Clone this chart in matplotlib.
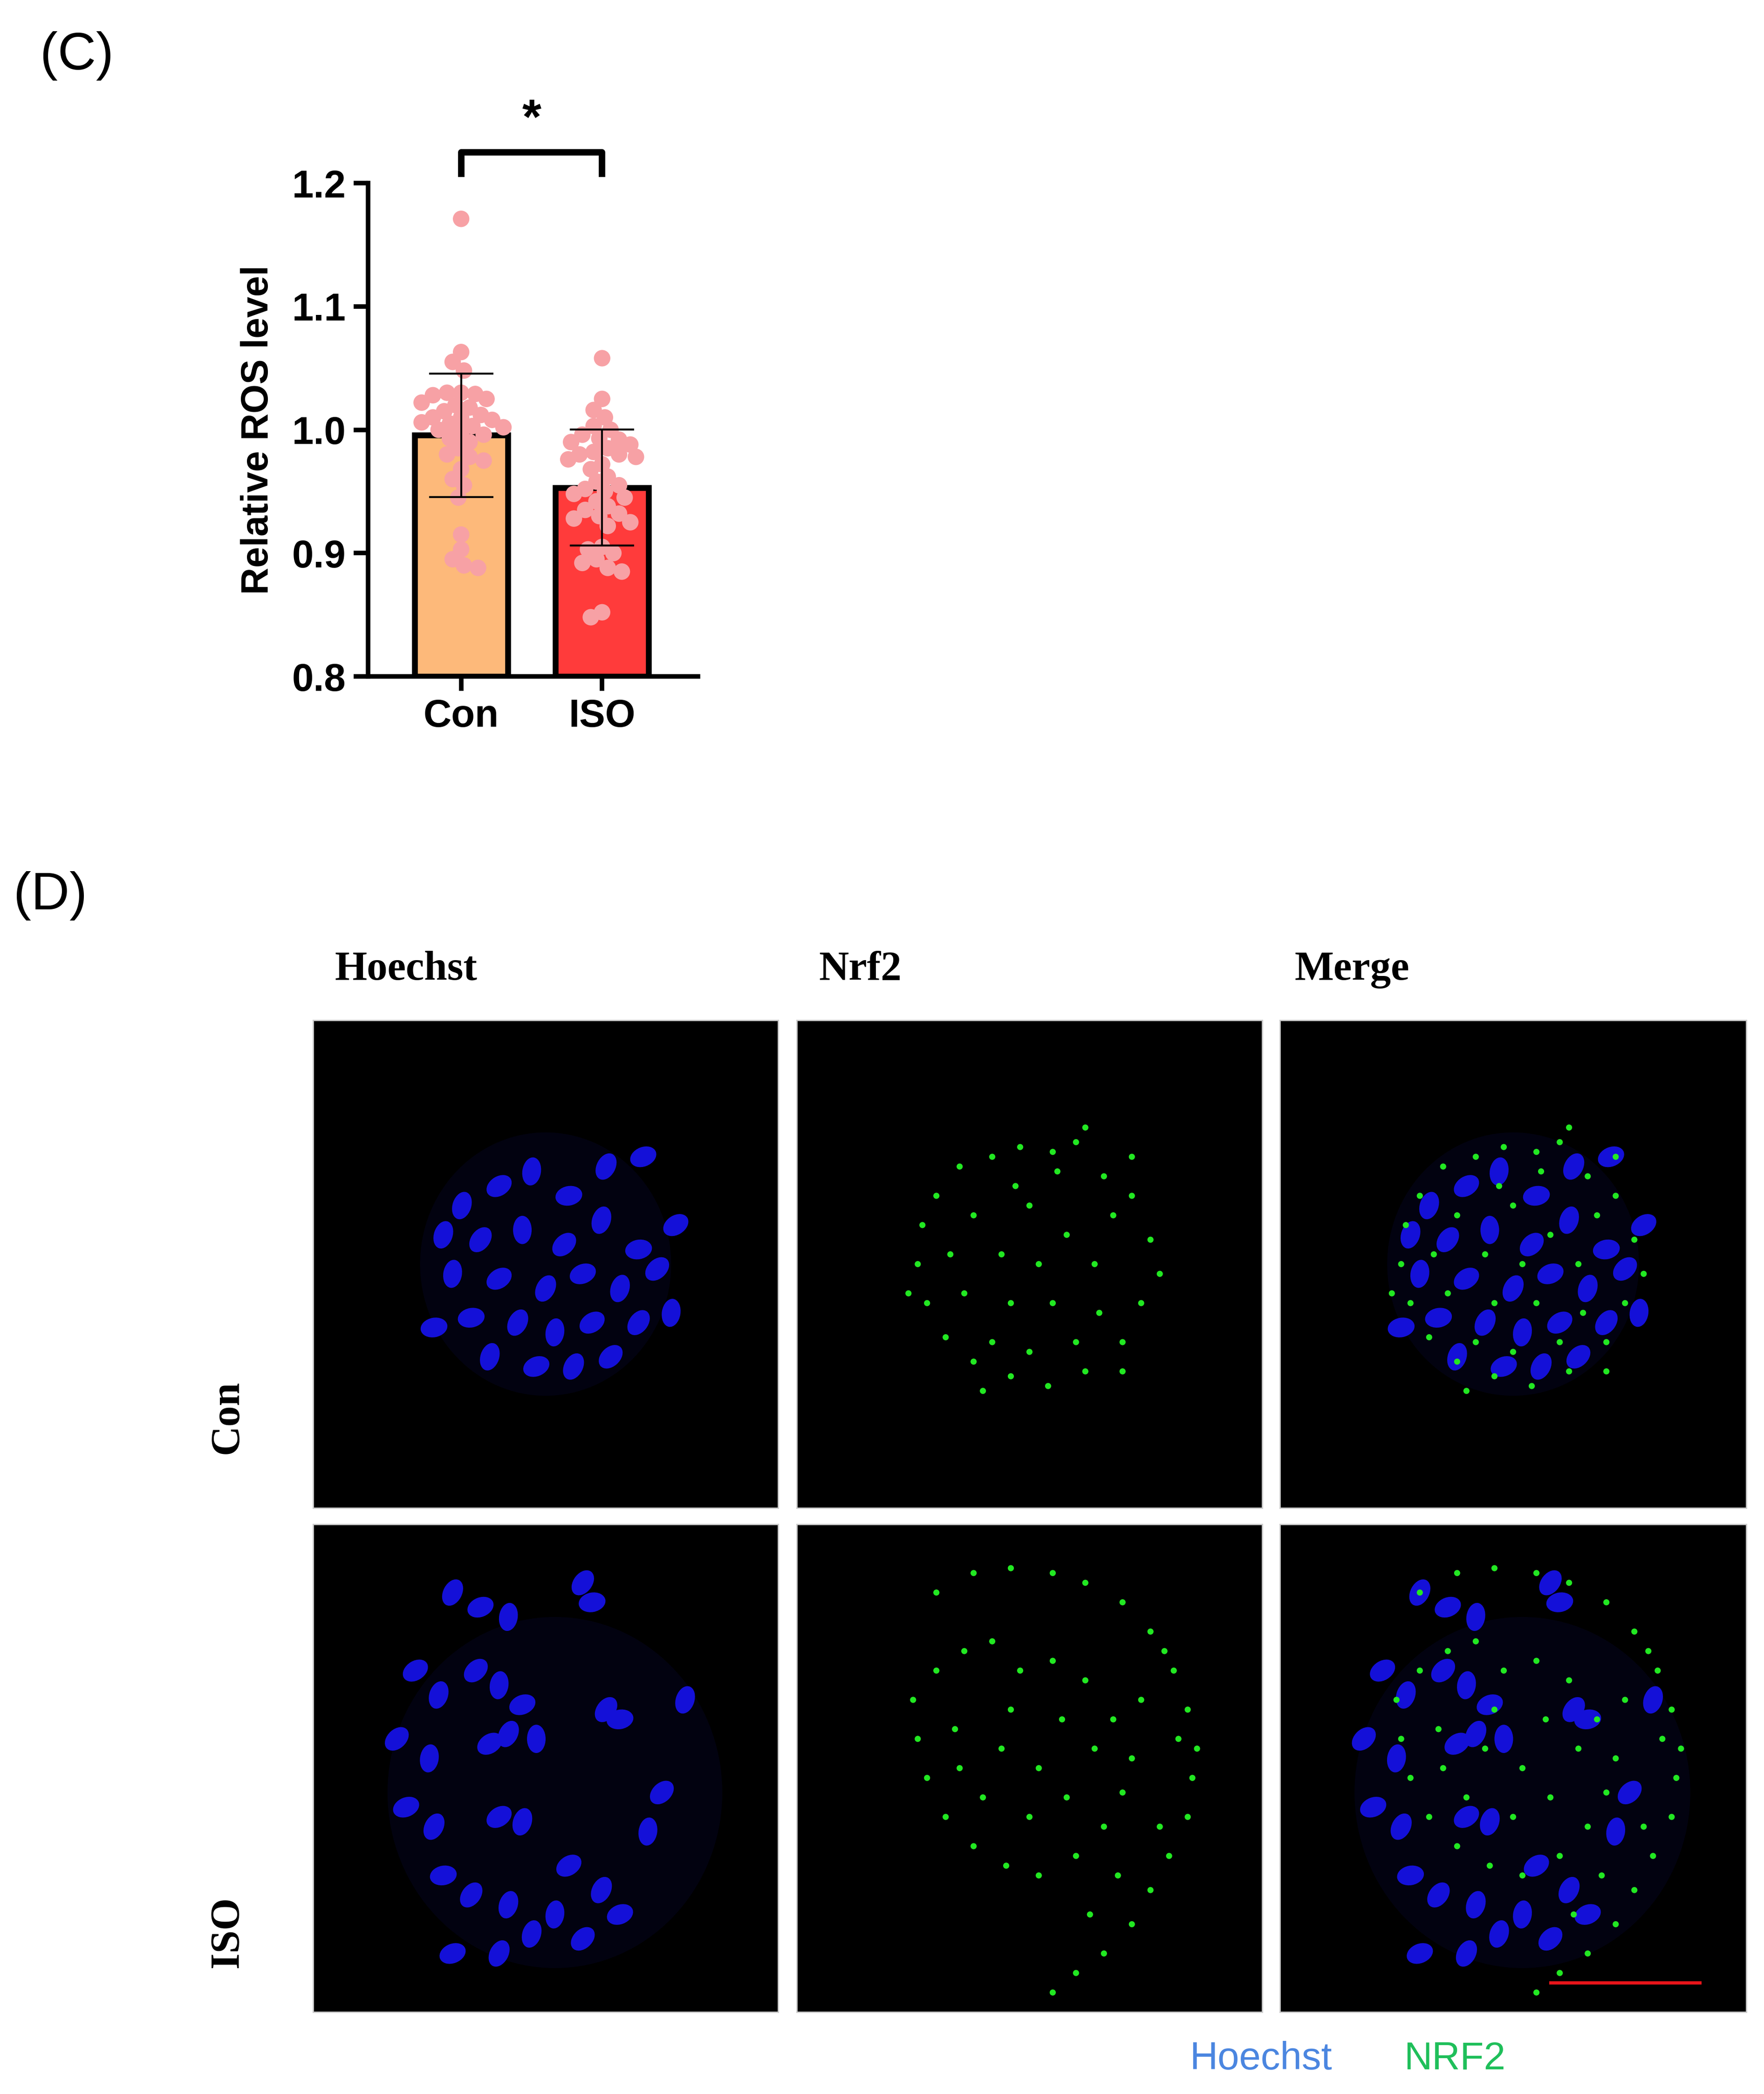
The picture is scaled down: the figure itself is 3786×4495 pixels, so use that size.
import numpy as np
import matplotlib
matplotlib.use("Agg")
import matplotlib.pyplot as plt
from matplotlib.patches import Ellipse, Circle

# ---- data ----
groups = ["Con", "ISO"]
bar_colors = ["#FDB97A", "#FF3B3B"]
con_vals = [1.171, 1.063, 1.055, 1.048, 1.030, 1.030, 1.029, 1.028, 1.025, 1.022, 1.020,
            1.018, 1.015, 1.012, 1.010, 1.010, 1.008, 1.006, 1.005, 1.003, 1.002, 1.000,
            0.998, 0.996, 0.993, 0.990, 0.985, 0.980, 0.978, 0.975, 0.968, 0.960, 0.955,
            0.945, 0.915, 0.903, 0.895, 0.890, 0.888]
iso_vals = [1.058, 1.025, 1.016, 1.010, 1.003, 1.000, 0.996, 0.993, 0.992, 0.990, 0.988,
            0.985, 0.982, 0.980, 0.980, 0.978, 0.976, 0.972, 0.968, 0.962, 0.958, 0.955,
            0.952, 0.950, 0.948, 0.945, 0.942, 0.938, 0.935, 0.932, 0.930, 0.928, 0.925,
            0.922, 0.905, 0.903, 0.900, 0.895, 0.892, 0.888, 0.885, 0.852, 0.848]
means = [np.mean(con_vals), np.mean(iso_vals)]
sds = [0.050, 0.047]

col_titles = ["Hoechst", "Nrf2", "Merge"]
row_titles = ["Con", "ISO"]

# nuclei (x, y, angle) in panel-normalized coords, y downward
con_nuclei = [(0.32,0.38,20),(0.40,0.34,60),(0.47,0.31,10),(0.55,0.36,80),(0.63,0.30,30),
              (0.71,0.28,70),(0.36,0.45,40),(0.45,0.43,0),(0.54,0.46,50),(0.62,0.41,20),
              (0.70,0.47,80),(0.30,0.52,10),(0.40,0.53,60),(0.50,0.55,30),(0.58,0.52,70),
              (0.66,0.55,20),(0.74,0.51,50),(0.34,0.61,80),(0.44,0.62,30),(0.52,0.64,10),
              (0.60,0.62,60),(0.70,0.62,40),(0.38,0.69,20),(0.48,0.71,70),(0.56,0.71,30),
              (0.64,0.69,50),(0.26,0.63,80),(0.28,0.44,20),(0.78,0.42,60),(0.77,0.60,10)]
iso_nuclei = [(0.30,0.14,30),(0.36,0.17,70),(0.42,0.19,10),(0.58,0.12,40),(0.60,0.16,80),
              (0.22,0.30,60),(0.27,0.35,20),(0.35,0.30,50),(0.40,0.33,10),(0.45,0.37,70),
              (0.42,0.43,30),(0.48,0.44,0),(0.38,0.45,60),(0.63,0.38,40),(0.66,0.40,80),
              (0.80,0.36,20),(0.18,0.44,50),(0.25,0.48,10),(0.20,0.58,70),(0.26,0.62,30),
              (0.40,0.60,60),(0.45,0.61,20),(0.75,0.55,50),(0.72,0.63,10),(0.28,0.72,80),
              (0.34,0.76,40),(0.42,0.78,20),(0.55,0.70,60),(0.62,0.75,30),(0.66,0.80,70),
              (0.52,0.80,10),(0.58,0.85,50),(0.40,0.88,30),(0.30,0.88,70),(0.47,0.84,20)]
con_dots = [(0.30,0.36),(0.35,0.30),(0.42,0.28),(0.48,0.26),(0.55,0.27),(0.60,0.25),
            (0.66,0.32),(0.72,0.36),(0.76,0.45),(0.78,0.52),(0.74,0.58),(0.70,0.66),
            (0.62,0.72),(0.54,0.75),(0.46,0.73),(0.38,0.70),(0.32,0.65),(0.28,0.58),
            (0.26,0.50),(0.27,0.42),(0.38,0.40),(0.44,0.48),(0.50,0.38),(0.58,0.44),
            (0.64,0.50),(0.55,0.58),(0.46,0.58),(0.36,0.56),(0.68,0.40),(0.60,0.66),
            (0.42,0.66),(0.52,0.50),(0.33,0.48),(0.72,0.28),(0.47,0.34),(0.65,0.60),
            (0.56,0.31),(0.40,0.76),(0.70,0.72),(0.24,0.56),(0.62,0.22),(0.50,0.68)]
iso_dots = [(0.30,0.14),(0.38,0.10),(0.46,0.09),(0.55,0.10),(0.62,0.12),(0.70,0.16),
            (0.76,0.22),(0.81,0.30),(0.84,0.38),(0.86,0.46),(0.85,0.52),(0.84,0.60),
            (0.80,0.68),(0.76,0.75),(0.72,0.82),(0.66,0.88),(0.60,0.92),(0.55,0.96),
            (0.30,0.30),(0.36,0.26),(0.42,0.24),(0.48,0.30),(0.55,0.28),(0.62,0.32),
            (0.68,0.40),(0.72,0.48),(0.70,0.55),(0.66,0.62),(0.60,0.68),(0.52,0.72),
            (0.45,0.70),(0.38,0.66),(0.32,0.60),(0.28,0.52),(0.26,0.44),(0.34,0.42),
            (0.44,0.46),(0.52,0.50),(0.58,0.56),(0.64,0.46),(0.40,0.56),(0.50,0.60),
            (0.74,0.36),(0.78,0.62),(0.69,0.72),(0.82,0.44),(0.25,0.36),(0.57,0.40),
            (0.46,0.38),(0.63,0.80),(0.79,0.26),(0.35,0.50)]

W, H = 3786, 4495
fig = plt.figure(figsize=(W / 100, H / 100), dpi=100)
sans = "Liberation Sans"
serif = "Liberation Serif"

def rect(x0, y0, x1, y1):
    return [x0 / W, 1 - y1 / H, (x1 - x0) / W, (y1 - y0) / H]

# ---- (C) bar chart ----
fig.text(86 / W, 1 - 120 / H, "(C)", fontsize=82, family=sans, va="center")
ax = fig.add_axes(rect(790, 393, 1498, 1452))
xs = np.arange(len(groups))
ax.bar(xs, [m - 0.8 for m in means], bottom=0.8, width=0.66, color=bar_colors,
       edgecolor="black", linewidth=9, zorder=1)

def swarm(vals, spread=0.085, dy=0.0105):
    placed, offs = [], []
    for v in vals:
        cands = sorted(np.arange(-0.44, 0.441, 0.02), key=abs)
        for c in cands:
            if all((c - px) ** 2 + ((v - py) / dy * spread) ** 2 >= spread ** 2 for px, py in placed):
                break
        placed.append((c, v))
        offs.append(c)
    return np.array(offs)

for i, vals in enumerate([con_vals, iso_vals]):
    ax.scatter(i + swarm(vals), vals, s=650, color="#F7A1A5", edgecolor="none", zorder=2)
    ax.errorbar(i, means[i], yerr=sds[i], fmt="none", ecolor="black", elinewidth=3,
                capsize=50, capthick=3, zorder=3)

ax.set_xlim(-0.66, 1.68)
ax.set_ylim(0.8, 1.2)
ax.set_yticks([0.8, 0.9, 1.0, 1.1, 1.2])
ax.set_yticklabels(["0.8", "0.9", "1.0", "1.1", "1.2"])
ax.set_xticks(xs)
ax.set_xticklabels(groups)
for lab in ax.get_xticklabels() + ax.get_yticklabels():
    lab.set_fontsize(60)
    lab.set_fontweight("bold")
    lab.set_family(sans)
ax.set_ylabel("Relative ROS level", fontsize=58, family=sans, fontweight="bold", labelpad=25)
for s in ["top", "right"]:
    ax.spines[s].set_visible(False)
for s in ["left", "bottom"]:
    ax.spines[s].set_linewidth(7)
ax.tick_params(width=7, length=22, pad=12)
ax.plot([0, 0, 1, 1], [1.205, 1.225, 1.225, 1.205], color="black", lw=10,
        clip_on=False, solid_capstyle="butt")
ax.text(0.5, 1.232, "*", ha="center", va="bottom", fontsize=76, fontweight="bold", family=sans)

# ---- (D) images ----
fig.text(29 / W, 1 - 1923 / H, "(D)", fontsize=82, family=sans, va="center")
col_x = [(672, 1670), (1710, 2709), (2747, 3748)]
row_y = [(2190, 3237), (3272, 4319)]
title_x = [718, 1757, 2778]
for j, t in enumerate(col_titles):
    fig.text(title_x[j] / W, 1 - 2081 / H, t, fontsize=64, family=serif,
             fontweight="bold", va="center")
for i, t in enumerate(row_titles):
    yc = [3042, 4147][i]
    fig.text(488 / W, 1 - yc / H, t, fontsize=64, family=serif, fontweight="bold",
             rotation=90, ha="center", va="center")

nuclei = [con_nuclei, iso_nuclei]
dots = [con_dots, iso_dots]
for i in range(2):
    for j in range(3):
        a = fig.add_axes(rect(col_x[j][0], row_y[i][0], col_x[j][1], row_y[i][1]))
        a.set_facecolor("black")
        a.set_xlim(0, 1)
        a.set_ylim(1, 0)
        a.set_xticks([])
        a.set_yticks([])
        for s in a.spines.values():
            s.set_edgecolor("#cccccc")
            s.set_linewidth(2)
        if j in (0, 2):
            a.add_patch(Circle((0.5, 0.5) if i == 0 else (0.52, 0.55), 0.27 if i == 0 else 0.36,
                               color="#0a0a40", alpha=0.25, lw=0))
            for (x, y, ang) in nuclei[i]:
                a.add_patch(Ellipse((x, y), 0.04, 0.058, angle=ang, color="#1410d8", lw=0))
        if j in (1, 2):
            xx = [d[0] for d in dots[i]]
            yy = [d[1] for d in dots[i]]
            a.scatter(xx, yy, s=90, color="#22e822", edgecolor="none")
        if i == 1 and j == 2:
            a.plot([0.58, 0.90], [0.94, 0.94], color="#e8141a", lw=5)

fig.text(2706 / W, 1 - 4420 / H, "Hoechst", fontsize=60, family=sans, color="#4b86e0",
         ha="center", va="center")
fig.text(3122 / W, 1 - 4420 / H, "NRF2", fontsize=60, family=sans, color="#1fbf5a",
         ha="center", va="center")

fig.savefig("out.png", dpi=100, facecolor="white")
